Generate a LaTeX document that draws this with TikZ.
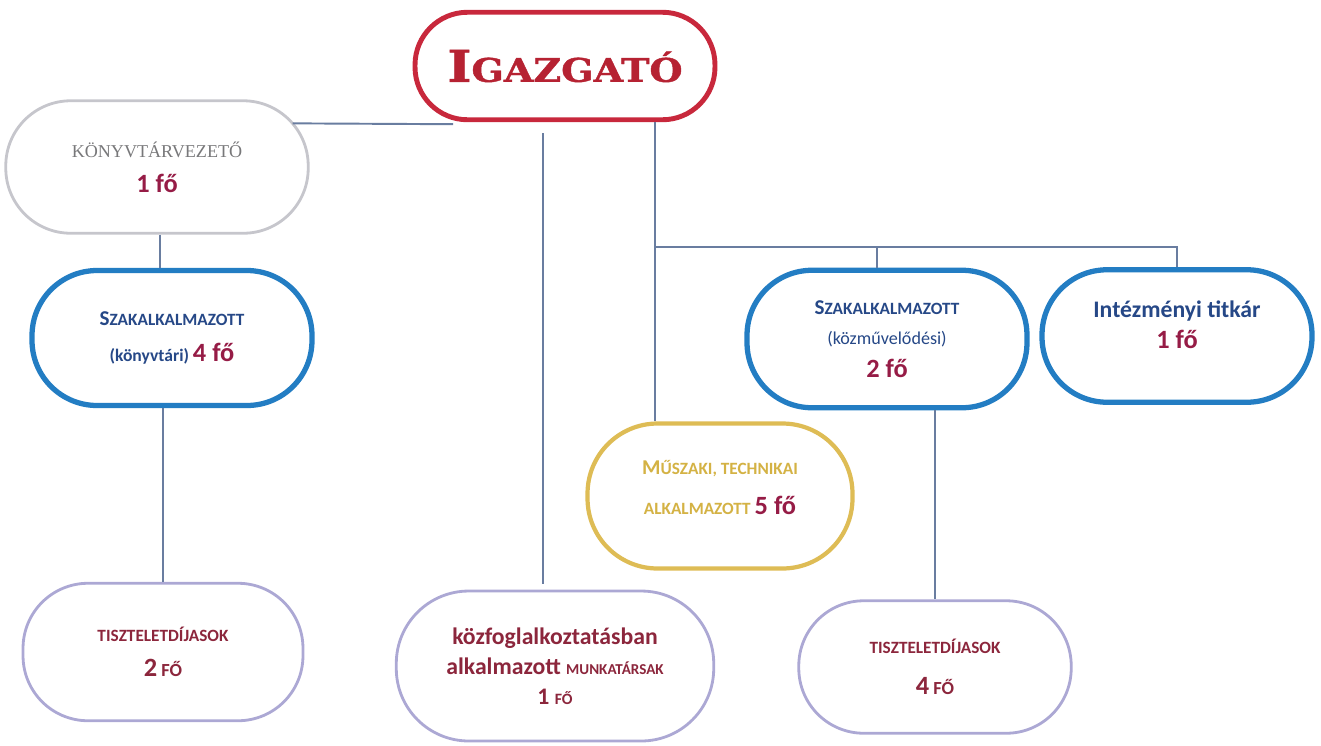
\documentclass[tikz,border=0pt]{standalone}
\usepackage{fontspec}
\setmainfont{Carlito}
\newfontfamily\titlefont{Liberation Serif}
\newfontfamily\igfont[FakeBold=1.2]{DejaVu Serif Bold}
\usetikzlibrary{positioning}

\definecolor{igred}{RGB}{200,40,60}
\definecolor{igtext}{RGB}{182,34,50}
\definecolor{fored}{RGB}{150,28,70}
\definecolor{tisztred}{RGB}{140,38,60}
\definecolor{boxblue}{RGB}{35,125,195}
\definecolor{textblue}{RGB}{38,72,135}
\definecolor{boxgold}{RGB}{222,188,85}
\definecolor{textgold}{RGB}{212,178,68}
\definecolor{boxlav}{RGB}{172,168,212}
\definecolor{konygray}{RGB}{198,198,204}
\definecolor{konytext}{RGB}{120,120,122}
\definecolor{connblue}{RGB}{105,125,160}

\newcommand{\initsz}{\fontsize{12}{14}\selectfont}
\newcommand{\capsz}{\fontsize{9.8}{12}\selectfont}
\newcommand{\fo}[1]{{\color{fored}\bfseries\fontsize{15}{18}\selectfont #1}}
\newcommand{\kf}[1]{{\color{tisztred}\bfseries\fontsize{13.5}{17}\selectfont #1}}

\begin{document}
\begin{tikzpicture}[x=0.02cm, y=-0.02cm,
    box/.style={draw, fill=white, rounded corners=1.3cm, align=center, inner sep=0pt,
      font=\fontsize{10}{20}\selectfont},
    bluebox/.style={box, draw=boxblue, line width=3pt},
    lavbox/.style={box, draw=boxlav, line width=1.6pt},
    conn/.style={draw=connblue, line width=1.1pt}]
    \useasboundingbox (0,0) rectangle (1321,745);

    % boxes
    \node[box, draw=igred, line width=2.8pt, minimum width=6.0cm, minimum height=2.15cm,
      rounded corners=1.05cm] (igazgato) at (565,66)
      {\color{igtext}\igfont\scalebox{1.17}[1]{{\fontsize{25}{30}\selectfont I}\fontsize{18.5}{24}\selectfont GAZGATÓ}};
    \node[box, draw=konygray, line width=1.6pt, minimum width=6.05cm, minimum height=2.65cm] (konyv) at (157,167)
      {{\color{konytext}\titlefont\fontsize{10.3}{12}\selectfont KÖNYVTÁRVEZETŐ}\\ \fo{1 fő}};
    \node[bluebox, minimum width=5.6cm, minimum height=2.7cm] (szak1) at (172,338)
      {{\color{textblue}\bfseries{\initsz S}{\capsz ZAKALKALMAZOTT}}\\
       {\color{textblue}\bfseries\fontsize{10}{12}\selectfont (könyvtári)} \fo{4 fő}};
    \node[lavbox, minimum width=5.6cm, minimum height=2.75cm] (tiszt1) at (163,652)
      {{\color{tisztred}\bfseries\capsz TISZTELETDÍJASOK}\\
       {\color{tisztred}\bfseries{\fontsize{15}{18}\selectfont 2} {\fontsize{10.5}{12}\selectfont FŐ}}};
    \node[lavbox, minimum width=6.35cm, minimum height=3.0cm, rounded corners=1.45cm] (kozfog) at (555,666)
      {\kf{közfoglalkoztatásban}\\[-3pt]
       \kf{alkalmazott {\fontsize{8.6}{10}\selectfont MUNKATÁRSAK}}\\[-3pt]
       \kf{1 {\fontsize{9}{10}\selectfont FŐ}}};
    \node[box, draw=boxgold, line width=2.4pt, minimum width=5.3cm, minimum height=2.9cm,
      rounded corners=1.4cm] (muszaki) at (720,496)
      {{\color{textgold}\bfseries{\initsz M}{\capsz ŰSZAKI, TECHNIKAI}}\\[3pt]
       {\color{textgold}\bfseries\capsz ALKALMAZOTT} \fo{5 fő}\rule[-9.5pt]{0pt}{9.5pt}};
    \node[bluebox, minimum width=5.6cm, minimum height=2.75cm] (szak2) at (887,339)
      {{\color{textblue}\bfseries{\initsz S}{\capsz ZAKALKALMAZOTT}}\\[-3pt]
       {\color{textblue}\fontsize{10.3}{12}\selectfont (közművelődési)}\\[-1pt]
       \fo{2 fő}};
    \node[bluebox, minimum width=5.4cm, minimum height=2.65cm] (titkar) at (1177,336)
      {{\color{textblue}\bfseries\fontsize{13.5}{16}\selectfont Intézményi titkár}\\[-2pt]
       \fo{1 fő}\rule[-13pt]{0pt}{13pt}};
    \node[lavbox, minimum width=5.45cm, minimum height=2.65cm] (tiszt2) at (935,667)
      {{\color{tisztred}\bfseries\capsz TISZTELETDÍJASOK}\\[3pt]
       {\color{tisztred}\bfseries{\fontsize{15}{18}\selectfont 4} {\fontsize{10.5}{12}\selectfont FŐ}}};

    % connectors
    \coordinate (fork) at (655,247);
    \draw[conn] ([shift={(-112,2)}]igazgato.south) -- ([shift={(-17,24)}]konyv.north east);
    \draw[conn] ([shift={(3,0)}]konyv.south) -- ([shift={(3,0)}]konyv.south |- szak1.north);
    \draw[conn] (tiszt1.north |- szak1.south) -- (tiszt1.north);
    \draw[conn] ([shift={(-22,11)}]igazgato.south) -- ([shift={(-12,-6)}]kozfog.north);
    \draw[conn] (igazgato.south -| fork) -- (muszaki.north -| fork);
    \draw[conn] (fork) -- (fork -| titkar.north) -- (titkar.north);
    \draw[conn] ([xshift=-0.2cm]fork -| szak2.north) -- ([xshift=-0.2cm]szak2.north);
    \draw[conn] (tiszt2.north |- szak2.south) -- (tiszt2.north);
\end{tikzpicture}
\end{document}
